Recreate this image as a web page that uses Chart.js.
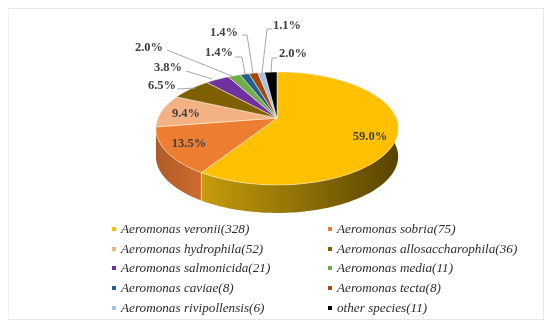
<!DOCTYPE html>
<html>
<head>
<meta charset="utf-8">
<script src="https://cdn.jsdelivr.net/npm/chart.js@4/dist/chart.umd.min.js"></script>
<style>
  html, body { margin: 0; padding: 0; background: #fff; }
  #wrap { position: relative; width: 550px; height: 328px; overflow: hidden; }
  #frame { position: absolute; left: 8px; top: 8px; width: 536px; height: 312px; border: 1px solid #e6e6e6; border-left-color: #efefef; box-sizing: border-box; }
  #grafica { position: absolute; left: 0; top: 0; }
  .ley { position: absolute; font: italic 13.2px "Liberation Serif", serif; color: #2b2b2b; white-space: nowrap; line-height: 16px; }
  .ley i { position: absolute; left: -9px; top: 6px; width: 4px; height: 4px; }
</style>
</head>
<body>
<div id="wrap">
  <div id="frame"></div>
  <canvas id="grafica" width="550" height="328"></canvas>
  <div id="leyenda"></div>
</div>
<script>
const especies = ['Aeromonas veronii', 'Aeromonas sobria', 'Aeromonas hydrophila', 'Aeromonas allosaccharophila', 'Aeromonas salmonicida', 'Aeromonas media', 'Aeromonas caviae', 'Aeromonas tecta', 'Aeromonas rivipollensis', 'other species'];
const cantidades = [328, 75, 52, 36, 21, 11, 8, 8, 6, 11];
const colores = ['#ffc000', '#ed7d31', '#f4b183', '#7f6000', '#7030a0', '#70ad47', '#255e91', '#a5480f', '#9dc3e6', '#000000'];

// posicion de cada etiqueta y su linea guia, a mano sobre la imagen
const etiquetasXY = [[370, 137], [189, 144], [186, 114], [162, 86], [168, 68], [149, 48], [219, 53], [224, 33], [287, 26], [293, 54]];
const guias = [null, null, null,
  [[177, 89], [195, 88]],
  [[186, 71], [212, 79]],
  [[167, 50], [232, 76]],
  [[235, 57], [242, 57], [245, 74]],
  [[242, 35], [247, 35], [253, 73]],
  [[272, 29], [267, 29], [262, 73]],
  [[277, 58], [272, 58], [271, 72]]];

// Perspectiva del disco: apice en (cx, cy), k es la fuga hacia el fondo
const cx = 277, cy = 118, ax = 119, by = 54.5, k = 0.186, alto = 28;

function proyectar(ang, r = 1) {
  const u = Math.cos(ang) * r, v = Math.sin(ang) * r;
  const w = 1 - k * v;
  return [cx + u * ax / w, cy + v * by / w];
}

function puntosArco(a0, a1) {
  const n = Math.max(2, Math.ceil((a1 - a0) / 0.02));
  const pts = [];
  for (let i = 0; i <= n; i++) pts.push(proyectar(a0 + (a1 - a0) * i / n));
  return pts;
}

const pastel3d = {
  id: 'pastel3d',
  beforeDatasetsDraw(chart) {
    const ctx = chart.ctx;
    const arcos = chart.getDatasetMeta(0).data;

    // pared lateral
    arcos.forEach((arco, i) => {
      if (i > 1) return;
      const pts = puntosArco(arco.startAngle, arco.endAngle);
      let grad = ctx.createLinearGradient(203, 0, 398, 0);
      grad.addColorStop(0, '#c69c0c');
      grad.addColorStop(0.5, '#8e7005');
      grad.addColorStop(1, '#584400');
      if (i === 1) {
        grad = ctx.createLinearGradient(156, 0, 203, 0);
        grad.addColorStop(0, '#b05c28');
        grad.addColorStop(1, '#d06c2e');
      }
      ctx.beginPath();
      pts.forEach((p, j) => j ? ctx.lineTo(p[0], p[1]) : ctx.moveTo(p[0], p[1]));
      pts.slice().reverse().forEach(p => ctx.lineTo(p[0], p[1] + alto));
      ctx.closePath();
      ctx.fillStyle = grad;
      ctx.fill();
    });

    // arista entre amarillo y naranja
    const borde = proyectar(arcos[0].endAngle);
    ctx.beginPath();
    ctx.moveTo(borde[0], borde[1]);
    ctx.lineTo(borde[0], borde[1] + alto);
    ctx.strokeStyle = 'rgba(255,240,205,0.8)';
    ctx.lineWidth = 1;
    ctx.stroke();

    // cara superior
    arcos.forEach((arco, i) => {
      ctx.beginPath();
      ctx.moveTo(cx, cy);
      puntosArco(arco.startAngle, arco.endAngle).forEach(p => ctx.lineTo(p[0], p[1]));
      ctx.closePath();
      ctx.fillStyle = colores[i];
      ctx.fill();
      ctx.strokeStyle = 'rgba(255,245,225,0.65)';
      ctx.lineWidth = 0.8;
      ctx.stroke();
    });
    return false;
  },
  afterDraw(chart) {
    const ctx = chart.ctx;
    const total = cantidades.reduce((a, b) => a + b, 0);
    guias.forEach(g => {
      if (!g) return;
      ctx.beginPath();
      g.forEach((p, j) => j ? ctx.lineTo(p[0], p[1]) : ctx.moveTo(p[0], p[1]));
      ctx.strokeStyle = '#a6a6a6';
      ctx.lineWidth = 1;
      ctx.stroke();
    });
    ctx.font = 'bold 12.5px "Liberation Serif", serif';
    ctx.fillStyle = '#404040';
    ctx.textAlign = 'center';
    ctx.textBaseline = 'middle';
    cantidades.forEach((c, i) => {
      const txt = (c / total * 100).toFixed(1) + '%';
      ctx.fillText(txt, etiquetasXY[i][0], etiquetasXY[i][1]);
    });
  }
};

new Chart(document.getElementById('grafica').getContext('2d'), {
  type: 'pie',
  data: {
    labels: especies,
    datasets: [{ data: cantidades, backgroundColor: colores, borderWidth: 0 }]
  },
  options: {
    responsive: false,
    animation: false,
    plugins: { legend: { display: false }, tooltip: { enabled: false } }
  },
  plugins: [pastel3d]
});

// Leyenda en dos columnas
const leyenda = document.getElementById('leyenda');
leyenda.innerHTML = especies.map((e, i) => {
  const x = i % 2 ? 337 : 121;
  const y = 221 + Math.floor(i / 2) * 19.7;
  return `<div class="ley" style="left:${x}px;top:${y}px"><i style="background:${colores[i]}"></i>${e}(${cantidades[i]})</div>`;
}).join('');
</script>
</body>
</html>
